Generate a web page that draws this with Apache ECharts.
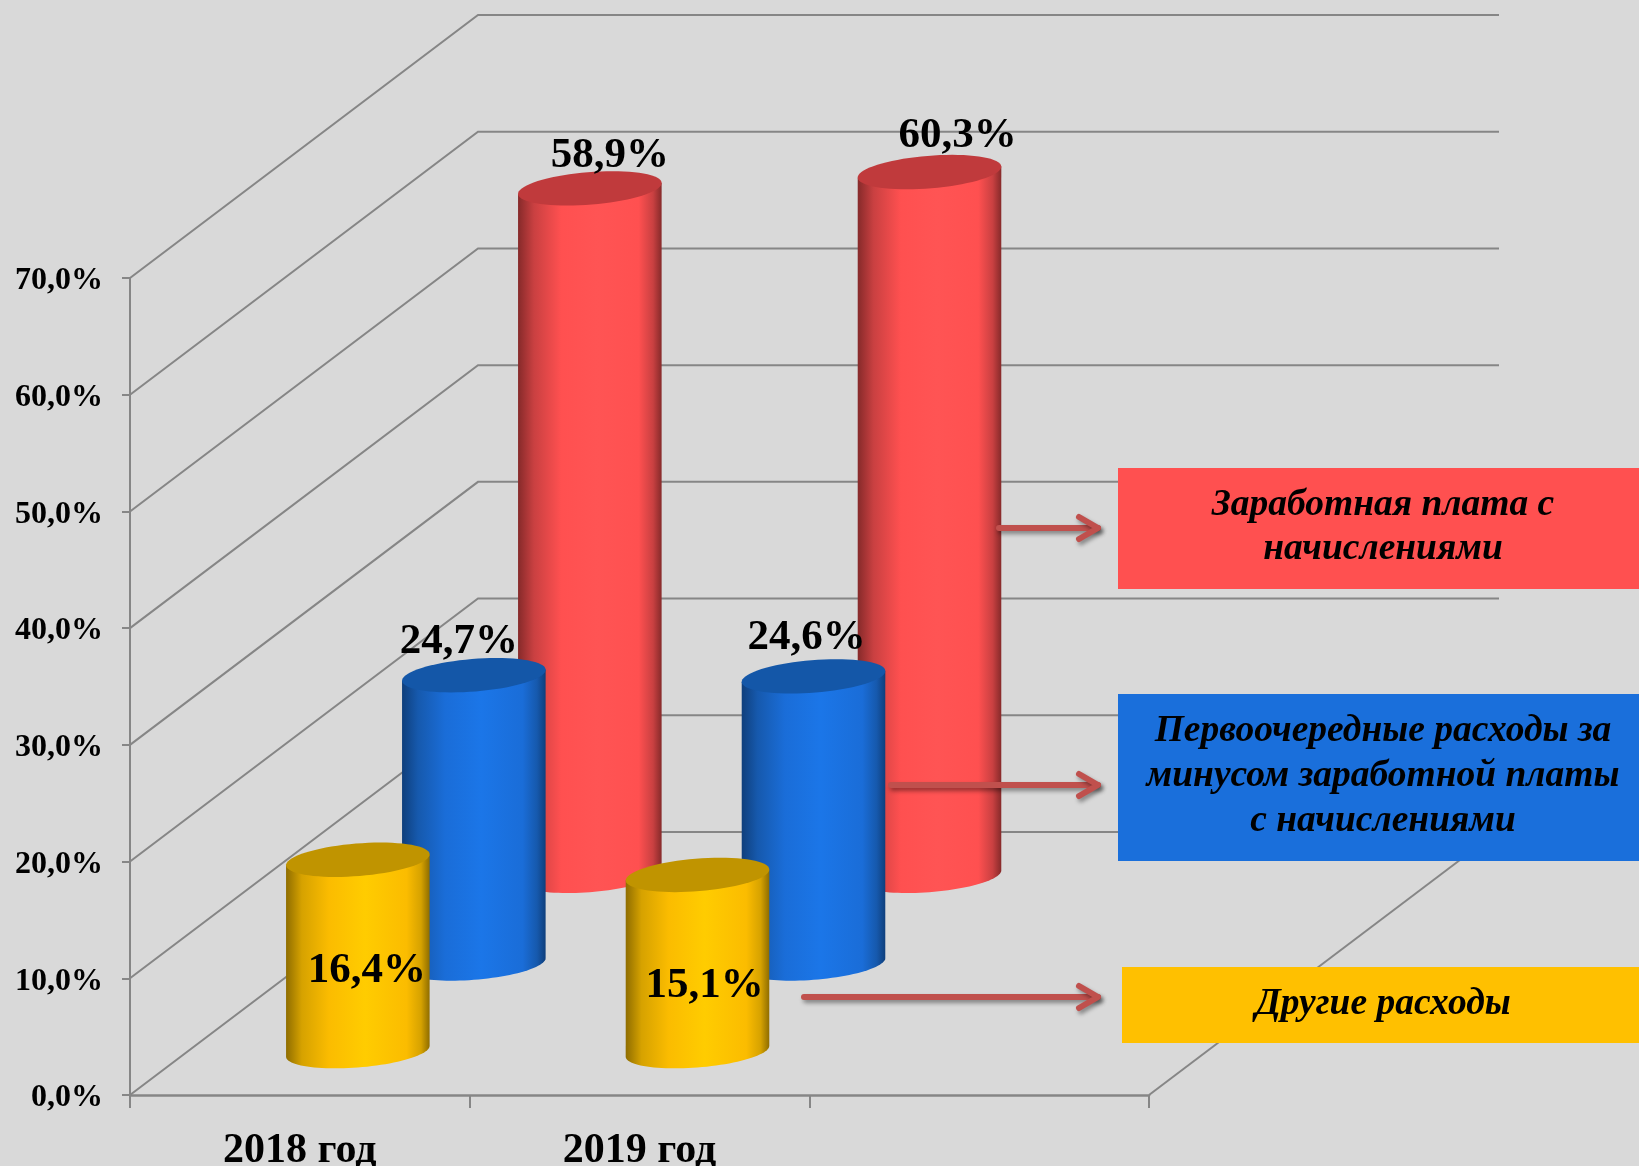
<!DOCTYPE html>
<html>
<head>
<meta charset="utf-8">
<title>Расходы</title>
<script src="https://cdn.jsdelivr.net/npm/echarts@6/dist/echarts.min.js"></script>
<style>
  html, body { margin: 0; padding: 0; background: #d9d9d9; }
  #chart { width: 1639px; height: 1166px; }
</style>
</head>
<body>
<div id="chart"></div>
<script>
const categories = ['2018 год', '2019 год', '']
const yTicks = [0, 10, 20, 30, 40, 50, 60, 70]

const otherValues = [16.4, 15.1]
const priorityValues = [24.7, 24.6]
const salaryValues = [58.9, 60.3]

const legendSalary = 'Заработная плата с\nначислениями'
const legendPriority = 'Первоочередные расходы за\nминусом заработной платы\nс начислениями'
const legendOther = 'Другие расходы'

const FONT = '"Liberation Serif", "Times New Roman", serif'
const GRID_COLOR = '#868686'
const ARROW_COLOR = '#c0504d'

// oblique projection of the 3D box: back wall is shifted by this much
const DEPTH_X = 348
const DEPTH_Y = -263

// cylinder disc in the projected plane
const DISC_R = 68.1
const DISC_U = 22.7
const DISC_V = 17.2
const TANGENT = Math.atan2(DISC_U, DISC_R)

const discPoint = (cx, cy, t) => [
  cx + DISC_R * Math.cos(t) + DISC_U * Math.sin(t),
  cy - DISC_V * Math.sin(t)
]

const sideGradient = c => ({
  type: 'linear', x: 0, y: 0, x2: 1, y2: 0,
  colorStops: [
    { offset: 0, color: c.edge },
    { offset: 0.11, color: c.mid },
    { offset: 0.3, color: c.base },
    { offset: 0.55, color: c.light },
    { offset: 0.84, color: c.base },
    { offset: 0.94, color: c.mid },
    { offset: 1, color: c.edge }
  ]
})

const cylinderSeries = (name, values, depth, colors, labelOffsets) => ({
  name,
  type: 'custom',
  coordinateSystem: 'cartesian2d',
  encode: { x: 0, y: 1 },
  data: values.map((v, i) => [i, v]),
  renderItem: (params, api) => {
    const i = api.value(0)
    const v = api.value(1)
    const base = api.coord([i, 0])
    const top = api.coord([i, v])
    const dx = DEPTH_X * depth
    const dy = DEPTH_Y * depth
    const cx = base[0] + dx
    const baseY = base[1] + dy
    const topY = top[1] + dy

    const body = [discPoint(cx, topY, TANGENT + Math.PI)]
    for (let k = 0; k <= 48; k++) {
      body.push(discPoint(cx, baseY, TANGENT + Math.PI + Math.PI * k / 48))
    }
    body.push(discPoint(cx, topY, TANGENT))

    const disc = []
    for (let k = 0; k < 72; k++) {
      disc.push(discPoint(cx, topY, Math.PI * 2 * k / 72))
    }

    const off = labelOffsets[params.dataIndex]
    return {
      type: 'group',
      children: [
        { type: 'polygon', shape: { points: body }, style: { fill: sideGradient(colors) } },
        { type: 'polygon', shape: { points: disc }, style: { fill: colors.top } },
        {
          type: 'text',
          z2: 100,
          style: {
            text: v.toFixed(1).replace('.', ',') + '%',
            x: cx + off[0],
            y: topY + off[1],
            fill: '#000',
            font: 'bold 43px ' + FONT,
            align: 'center',
            verticalAlign: 'middle'
          }
        }
      ]
    }
  }
})

const wallSeries = {
  type: 'custom',
  coordinateSystem: 'cartesian2d',
  encode: { y: 0 },
  silent: true,
  data: yTicks.map(v => [v]),
  renderItem: (params, api) => {
    const g = params.coordSys
    const y = api.coord([0, api.value(0)])[1]
    const lineStyle = { stroke: GRID_COLOR, lineWidth: 2, fill: null }
    const children = [{
      type: 'polyline',
      shape: { points: [[g.x, y], [g.x + DEPTH_X, y + DEPTH_Y], [1499, y + DEPTH_Y]] },
      style: lineStyle
    }]
    // right edge of the floor
    if (api.value(0) === 0) {
      children.push({
        type: 'line',
        shape: { x1: g.x + g.width, y1: y, x2: g.x + g.width + DEPTH_X, y2: y + DEPTH_Y },
        style: lineStyle
      })
    }
    return { type: 'group', children }
  }
}

const legendBox = (x, y, w, h, fill, text, lineHeight) => ({
  type: 'group',
  children: [
    { type: 'rect', z: 10, shape: { x, y, width: w, height: h }, style: { fill } },
    {
      type: 'text',
      z: 11,
      style: {
        text,
        x: 1383,
        y: y + h / 2 - 1,
        fill: '#000',
        font: 'italic bold 37.5px ' + FONT,
        lineHeight,
        align: 'center',
        verticalAlign: 'middle'
      }
    }
  ]
})

const arrowStyle = {
  stroke: ARROW_COLOR, lineWidth: 6, fill: null, lineCap: 'round', lineJoin: 'round',
  shadowColor: 'rgba(0,0,0,0.4)', shadowBlur: 4, shadowOffsetX: 2, shadowOffsetY: 3
}

const arrow = (x1, x2, y) => ({
  type: 'group',
  children: [
    { type: 'polyline', z: 12, shape: { points: [[x1, y], [x2 - 5, y]] }, style: arrowStyle },
    { type: 'polyline', z: 12, shape: { points: [[x2 - 24, y - 11], [x2 - 5, y], [x2 - 24, y + 11]] }, style: arrowStyle }
  ]
})

const chart = echarts.init(document.getElementById('chart'))

chart.setOption({
  backgroundColor: '#d9d9d9',
  animation: false,
  // outerBoundsMode none: keep the plot where it is set, labels may reach the page edge
  grid: { left: 130, top: 278, width: 1019, height: 817, outerBoundsMode: 'none' },
  xAxis: {
    type: 'category',
    data: categories,
    axisLine: { lineStyle: { color: GRID_COLOR, width: 2.5 } },
    axisTick: { show: true, alignWithLabel: false, length: 13, lineStyle: { color: GRID_COLOR, width: 2 } },
    axisLabel: {
      color: '#000',
      fontFamily: FONT,
      fontWeight: 'bold',
      fontSize: 42,
      margin: 35
    }
  },
  yAxis: {
    type: 'value',
    min: 0,
    max: 70,
    interval: 10,
    splitLine: { show: false },
    axisLine: { show: true, lineStyle: { color: GRID_COLOR, width: 2 } },
    axisTick: { show: true, length: 8, lineStyle: { color: GRID_COLOR, width: 2 } },
    axisLabel: {
      color: '#000',
      fontFamily: FONT,
      fontWeight: 'bold',
      fontSize: 32,
      margin: 27,
      // labels sit a little below their ticks in the original
      verticalAlign: 'top',
      lineHeight: 6,
      formatter: v => v.toFixed(1).replace('.', ',') + '%'
    }
  },
  series: [
    wallSeries,
    cylinderSeries('Заработная плата с начислениями', salaryValues, 5 / 6,
      { edge: '#862a2a', mid: '#c94041', base: '#ff5050', light: '#ff5454', top: '#c03a3c' }, [[20, -32], [28, -36]]),
    cylinderSeries('Первоочередные расходы за минусом заработной платы с начислениями', priorityValues, 3 / 6,
      { edge: '#0f3f7c', mid: '#1659ad', base: '#1a6dd8', light: '#1b76e8', top: '#1457a8' }, [[-15, -33], [-7, -38]]),
    cylinderSeries('Другие расходы', otherValues, 1 / 6,
      { edge: '#8f6d00', mid: '#d6a200', base: '#fbbc00', light: '#ffcc00', top: '#c09400' }, [[9, 111], [7, 111]])
  ],
  graphic: [
    legendBox(1118, 468, 521, 121, '#ff5050', legendSalary, 44),
    legendBox(1118, 694, 521, 167, '#1a6fdb', legendPriority, 45),
    legendBox(1122, 967, 517, 76, '#ffc000', legendOther, 44),
    arrow(999, 1103, 528),
    arrow(891, 1103, 785),
    arrow(804, 1103, 997)
  ]
})

window.addEventListener('resize', () => chart.resize())
</script>
</body>
</html>
